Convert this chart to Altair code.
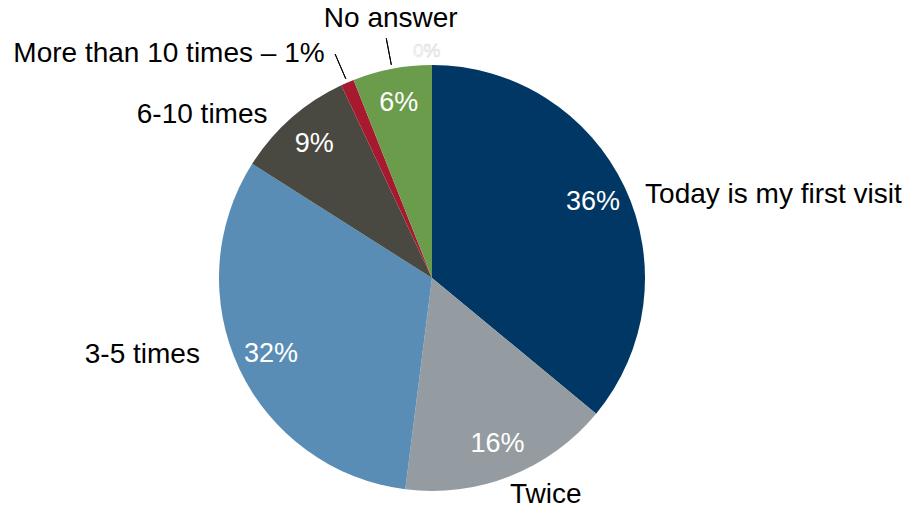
import altair as alt
import pandas as pd

categories = ["Today is my first visit", "Twice", "3-5 times", "6-10 times", "More than 10 times", "No answer"]
values = [36, 16, 32, 9, 1, 6]
pct_labels = ["36%", "16%", "32%", "9%", "", "6%"]
outer_labels = ["Today is my first visit", "Twice", "3-5 times", "6-10 times", "More than 10 times \u2013 1%", "No answer"]
colors = ["#003764", "#949CA1", "#5A8DB5", "#4A4941", "#A6192E", "#6A9C4B"]
ghost_text = ["0%"]

df = pd.DataFrame({"cat": categories, "value": values, "pct": pct_labels,
                   "label": outer_labels, "order": list(range(len(categories)))})

CX, CY, R = 432, 278, 213
FONT = "Liberation Sans"
theta_scale = alt.Scale(domain=[0, 100], range=[0, 6.283185307179586])

base = alt.Chart(df).transform_window(
    cum="sum(value)", sort=[alt.SortField("order")], frame=[None, 0]
).transform_calculate(
    start="datum.cum - datum.value", mid="datum.cum - datum.value / 2"
)
pos = dict(x=alt.value(CX), y=alt.value(CY))

arcs = base.mark_arc(radius=R).encode(
    theta=alt.Theta("start:Q", scale=theta_scale),
    theta2="cum:Q",
    color=alt.Color("cat:N", scale=alt.Scale(domain=categories, range=colors), legend=None),
    **pos,
)

pcts = base.transform_filter("datum.pct != ''").mark_text(
    radius=178, fontSize=27, color="white", font=FONT
).encode(theta=alt.Theta("mid:Q", scale=theta_scale), text="pct:N", **pos)

# label layout: (order, align, dx, dy)
label_layout = [(0, "left", 14, 11), (1, "left", -3, 12), (2, "right", -33, -17),
                (3, "right", -19, 2), (4, "right", -20, -22), (5, "center", 0, -43)]
label_layers = []
for idx, al, dx, dy in label_layout:
    label_layers.append(
        base.transform_filter(f"datum.order == {idx}").mark_text(
            radius=220, fontSize=28, color="black", font=FONT, align=al, dx=dx, dy=dy
        ).encode(theta=alt.Theta("mid:Q", scale=theta_scale), text="label:N", **pos)
    )

leaders = base.transform_filter("datum.order == 4 || datum.order == 5").mark_arc(
    radius=244, radius2=217, stroke="black", strokeWidth=1, fillOpacity=0
).encode(theta=alt.Theta("mid:Q", scale=theta_scale), theta2="mid:Q", **pos)

ghost = base.transform_filter("datum.order == 5").transform_calculate(
    g=f"'{ghost_text[0]}'"
).mark_text(
    radius=220, fontSize=19, fill="white", stroke="#d4d4d4", strokeWidth=0.5,
    font=FONT, dx=36, dy=-11
).encode(theta=alt.Theta("mid:Q", scale=theta_scale), text="g:N", **pos)

chart = alt.layer(arcs, pcts, leaders, ghost, *label_layers).properties(
    width=912, height=513, autosize=alt.AutoSizeParams(type="none"), padding=0
).configure_view(stroke=None)

chart.save("out.html", embed_options={"renderer": "svg", "actions": False})
